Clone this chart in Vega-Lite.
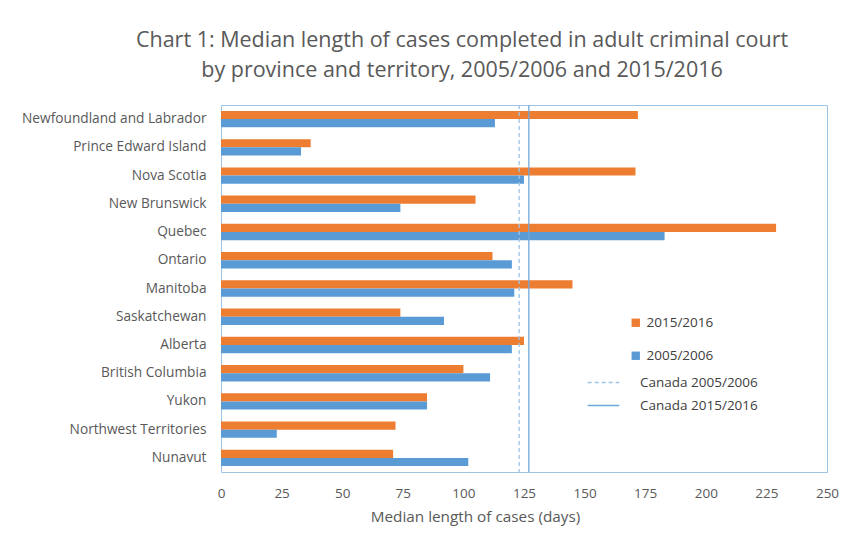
{
  "$schema": "https://vega.github.io/schema/vega-lite/v6.json",
  "width": 606,
  "height": 367,
  "autosize": {"type": "none"},
  "padding": {"left": 221, "top": 105, "right": 31, "bottom": 72},
  "background": "white",
  "title": {
    "text": ["Chart 1: Median length of cases completed in adult criminal court", "by province and territory, 2005/2006 and 2015/2016"],
    "anchor": "middle",
    "dx": -62,
    "offset": 23,
    "font": "Open Sans",
    "fontSize": 21.5,
    "fontWeight": "normal",
    "color": "#595959",
    "lineHeight": 30
  },
  "config": {
    "view": {"stroke": "#9DC3E6", "strokeWidth": 1},
    "font": "Open Sans",
    "axis": {"labelFont": "Open Sans", "titleFont": "Open Sans", "labelColor": "#595959", "titleColor": "#595959"},
    "legend": {"labelFont": "Open Sans", "labelColor": "#404040"}
  },
  "layer": [
    {
      "data": {
        "values": [
          {"province": "Newfoundland and Labrador", "period": "2015/2016", "days": 172},
          {"province": "Newfoundland and Labrador", "period": "2005/2006", "days": 113},
          {"province": "Prince Edward Island", "period": "2015/2016", "days": 37},
          {"province": "Prince Edward Island", "period": "2005/2006", "days": 33},
          {"province": "Nova Scotia", "period": "2015/2016", "days": 171},
          {"province": "Nova Scotia", "period": "2005/2006", "days": 125},
          {"province": "New Brunswick", "period": "2015/2016", "days": 105},
          {"province": "New Brunswick", "period": "2005/2006", "days": 74},
          {"province": "Quebec", "period": "2015/2016", "days": 229},
          {"province": "Quebec", "period": "2005/2006", "days": 183},
          {"province": "Ontario", "period": "2015/2016", "days": 112},
          {"province": "Ontario", "period": "2005/2006", "days": 120},
          {"province": "Manitoba", "period": "2015/2016", "days": 145},
          {"province": "Manitoba", "period": "2005/2006", "days": 121},
          {"province": "Saskatchewan", "period": "2015/2016", "days": 74},
          {"province": "Saskatchewan", "period": "2005/2006", "days": 92},
          {"province": "Alberta", "period": "2015/2016", "days": 125},
          {"province": "Alberta", "period": "2005/2006", "days": 120},
          {"province": "British Columbia", "period": "2015/2016", "days": 100},
          {"province": "British Columbia", "period": "2005/2006", "days": 111},
          {"province": "Yukon", "period": "2015/2016", "days": 85},
          {"province": "Yukon", "period": "2005/2006", "days": 85},
          {"province": "Northwest Territories", "period": "2015/2016", "days": 72},
          {"province": "Northwest Territories", "period": "2005/2006", "days": 23},
          {"province": "Nunavut", "period": "2015/2016", "days": 71},
          {"province": "Nunavut", "period": "2005/2006", "days": 102}
        ]
      },
      "mark": {"type": "bar"},
      "encoding": {
        "y": {
          "field": "province",
          "type": "nominal",
          "sort": null,
          "scale": {"paddingInner": 0.42, "paddingOuter": 0.21},
          "axis": {"title": null, "domain": false, "ticks": false, "labelPadding": 15, "labelFontSize": 13.7, "labelLimit": 300}
        },
        "yOffset": {
          "field": "period",
          "type": "nominal",
          "sort": ["2015/2016", "2005/2006"],
          "scale": {"paddingInner": 0, "paddingOuter": 0}
        },
        "x": {
          "field": "days",
          "type": "quantitative",
          "scale": {"domain": [0, 250], "nice": false},
          "axis": {
            "title": "Median length of cases (days)",
            "values": [0, 25, 50, 75, 100, 125, 150, 175, 200, 225, 250],
            "grid": false,
            "domain": false,
            "ticks": false,
            "labelFlush": false,
            "labelPadding": 14,
            "labelFontSize": 13.5,
            "titleFontSize": 15.3,
            "titleFontWeight": "normal",
            "titlePadding": 10,
            "titleX": 254,
            "titleAlign": "center"
          }
        },
        "color": {
          "field": "period",
          "type": "nominal",
          "scale": {"domain": ["2015/2016", "2005/2006"], "range": ["#ED7D31", "#5B9BD5"]},
          "legend": {
            "title": null,
            "orient": "none",
            "legendX": 408,
            "legendY": 211,
            "symbolType": "square",
            "symbolSize": 70,
            "labelFontSize": 13.5,
            "rowPadding": 18,
            "labelOffset": 4
          }
        }
      }
    },
    {
      "data": {
        "values": [
          {"line": "Canada 2005/2006", "days": 123},
          {"line": "Canada 2015/2016", "days": 127}
        ]
      },
      "mark": {"type": "rule", "strokeWidth": 1.3},
      "encoding": {
        "x": {"field": "days", "type": "quantitative"},
        "color": {
          "field": "line",
          "type": "nominal",
          "scale": {"domain": ["Canada 2005/2006", "Canada 2015/2016"], "range": ["#9DC3E6", "#6FA8DC"]},
          "legend": null
        },
        "strokeDash": {
          "field": "line",
          "type": "nominal",
          "scale": {"domain": ["Canada 2005/2006", "Canada 2015/2016"], "range": [[4, 3], [1, 0]]},
          "legend": {
            "title": null,
            "orient": "none",
            "legendX": 366,
            "legendY": 261,
            "symbolType": "stroke",
            "symbolSize": 1000,
            "symbolStrokeWidth": 1.3,
            "labelFontSize": 13.5,
            "rowPadding": -9,
            "labelOffset": 20,
            "encode": {
              "symbols": {
                "update": {
                  "stroke": {"signal": "datum.value === 'Canada 2005/2006' ? '#9DC3E6' : '#6FA8DC'"}
                }
              }
            }
          }
        }
      }
    }
  ],
  "resolve": {"scale": {"color": "independent"}}
}
